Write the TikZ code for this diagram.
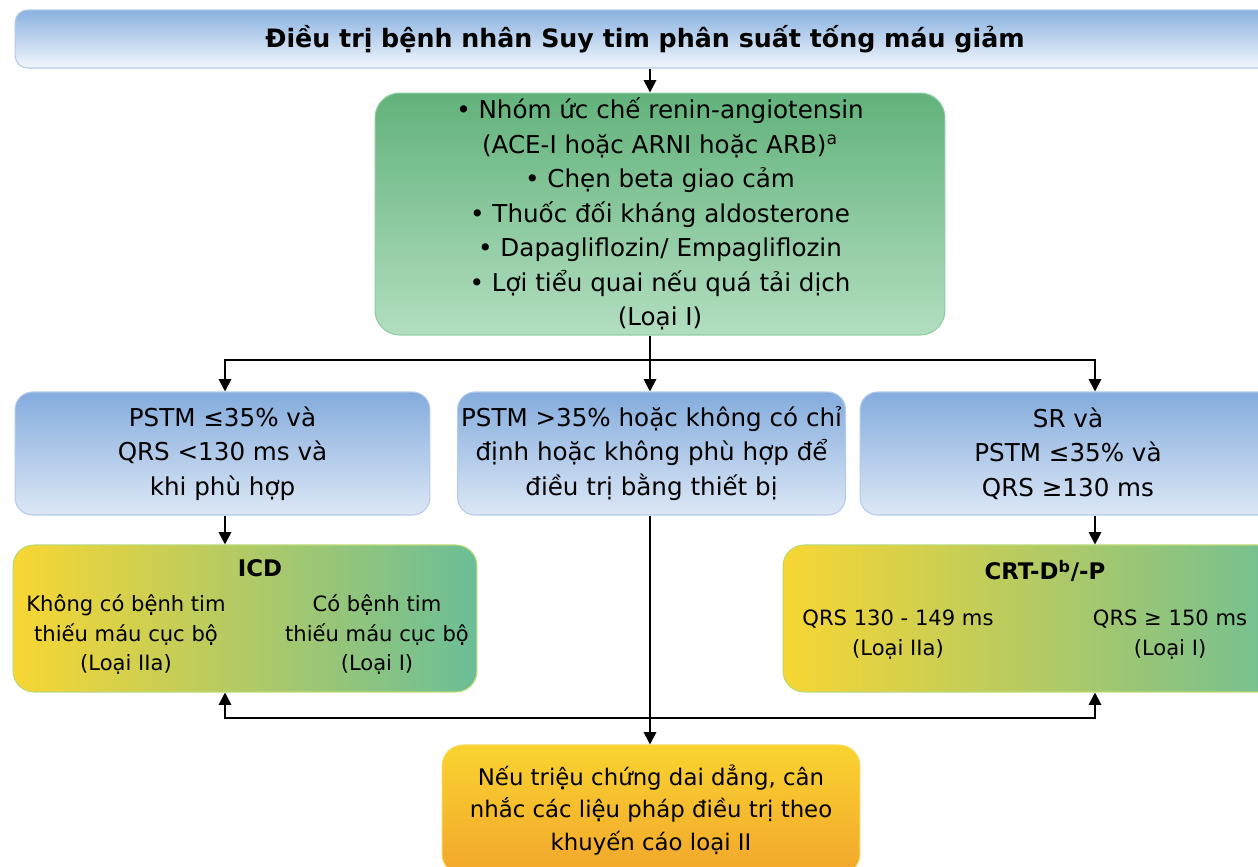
\documentclass[tikz,border=0pt]{standalone}
\usepackage{fontspec}
\setmainfont{DejaVu Sans}
\usetikzlibrary{arrows.meta}
\definecolor{bannertop}{HTML}{8AB2E0}
\definecolor{bannerbot}{HTML}{F2F6FC}
\definecolor{bluetop}{HTML}{84ACDD}
\definecolor{bluebot}{HTML}{DCE7F5}
\definecolor{blueedge}{HTML}{B3CBEA}
\definecolor{greentop}{HTML}{62B27B}
\definecolor{greenbot}{HTML}{B2DEC0}
\definecolor{greenedge}{HTML}{8FCDA1}
\definecolor{devyellow}{HTML}{F8D633}
\definecolor{devmid}{HTML}{C6D25F}
\definecolor{devteal}{HTML}{6BBE98}
\definecolor{devedge}{HTML}{B9DA72}
\definecolor{orangetop}{HTML}{F9D330}
\definecolor{orangebot}{HTML}{F2A62C}
\definecolor{orangeedge}{HTML}{F8D858}
\tikzset{
  box/.style={rounded corners=12pt,line width=0.6pt,align=center,inner sep=2pt,font=\fontsize{14}{19.6}\selectfont},
  banner/.style={box,rounded corners=7pt,draw=blueedge,top color=bannertop,bottom color=bannerbot,minimum width=25.2cm,minimum height=1.16cm,font=\fontsize{14.4}{17}\selectfont\bfseries},
  drugbox/.style={box,rounded corners=14pt,draw=greenedge,top color=greentop,bottom color=greenbot,minimum width=11.4cm,minimum height=4.84cm},
  bluebox/.style={box,rounded corners=10pt,draw=blueedge,top color=bluetop,bottom color=bluebot,minimum height=2.46cm},
  devbox/.style={box,draw=devedge,left color=devyellow,middle color=devmid,right color=devteal,minimum height=2.94cm},
  nextbox/.style={box,draw=orangeedge,top color=orangetop,bottom color=orangebot,minimum width=8.36cm,minimum height=2.6cm,font=\fontsize{13}{18.6}\selectfont},
  devhead/.style={font=\fontsize{13}{16}\selectfont\bfseries,inner sep=0pt},
  devtxt/.style={align=center,inner sep=0pt,font=\fontsize{12}{17}\selectfont},
  conn/.style={line width=1.1pt},
  arr/.style={conn,-{Triangle[length=7pt,width=7pt]}}
}
\begin{document}
\begin{tikzpicture}[x=0.02cm,y=-0.02cm]
  \useasboundingbox (0,0) rectangle (1258,866);
  \clip (0,0) rectangle (1258,866);
  \fill[white] (0,0) rectangle (1258,866);
  % boxes
  \node[banner] (title) at (645,39) {Điều trị bệnh nhân Suy tim phân suất tống máu giảm};
  \node[drugbox] (drugs) at (660,214) {• Nhóm ức chế renin-angiotensin\\(ACE-I hoặc ARNI hoặc ARB)\textsuperscript{a}\\• Chẹn beta giao cảm\\• Thuốc đối kháng aldosterone\\• Dapagliflozin/ Empagliflozin\\• Lợi tiểu quai nếu quá tải dịch\\(Loại I)};
  \node[bluebox,minimum width=8.3cm] (lowqrs) at (222.5,453.5) {PSTM ≤35\% và\\QRS <130 ms và\\khi phù hợp};
  \node[bluebox,minimum width=7.74cm] (nodev) at (651.5,453.5) {PSTM >35\% hoặc không có chỉ\\định hoặc không phù hợp để\\điều trị bằng thiết bị};
  \node[bluebox,minimum width=8.32cm] (highqrs) at (1068,453.5) {SR và\\PSTM ≤35\% và\\QRS ≥130 ms};
  \node[devbox,minimum width=9.28cm] (icd) at (245,618.5) {};
  \node[devbox,minimum width=10.48cm] (crt) at (1045,618.5) {};
  \node[nextbox] (next) at (651,810) {Nếu triệu chứng dai dẳng, cân\\nhắc các liệu pháp điều trị theo\\khuyến cáo loại II};
  % device texts
  \node[devhead] (icdname) at (260,568) {ICD};
  \node[devtxt] (icdnoisch) at (126,634.5) {Không có bệnh tim\\thiếu máu cục bộ\\(Loại IIa)};
  \node[devtxt] (icdisch) at (377,634.5) {Có bệnh tim\\thiếu máu cục bộ\\(Loại I)};
  \node[devhead] (crtname) at (1045,571) {CRT-D\textsuperscript{b}/-P};
  \node[devtxt] (crtmid) at (898,635) {QRS 130 - 149 ms\\(Loại IIa)};
  \node[devtxt] (crtwide) at (1170,635) {QRS ≥ 150 ms\\(Loại I)};
  % connectors
  \coordinate (spine) at (650,360);
  \coordinate (lx) at (225,360);
  \coordinate (rx) at (1095,360);
  \coordinate (back) at (650,718);
  \draw[arr] (title.south -| spine) -- (drugs.north -| spine);
  \draw[conn] (drugs.south -| spine) -- (spine);
  \draw[arr] (spine) -- (nodev.north -| spine);
  \draw[arr] (spine) -| (lowqrs.north -| lx);
  \draw[arr] (spine) -| (highqrs.north -| rx);
  \draw[arr] (lowqrs.south -| lx) -- (icd.north -| lx);
  \draw[arr] (highqrs.south -| rx) -- (crt.north -| rx);
  \draw[arr] (nodev.south -| spine) -- (next.north -| spine);
  \draw[arr] (back) -| (icd.south -| lx);
  \draw[arr] (back) -| (crt.south -| rx);
\end{tikzpicture}
\end{document}
